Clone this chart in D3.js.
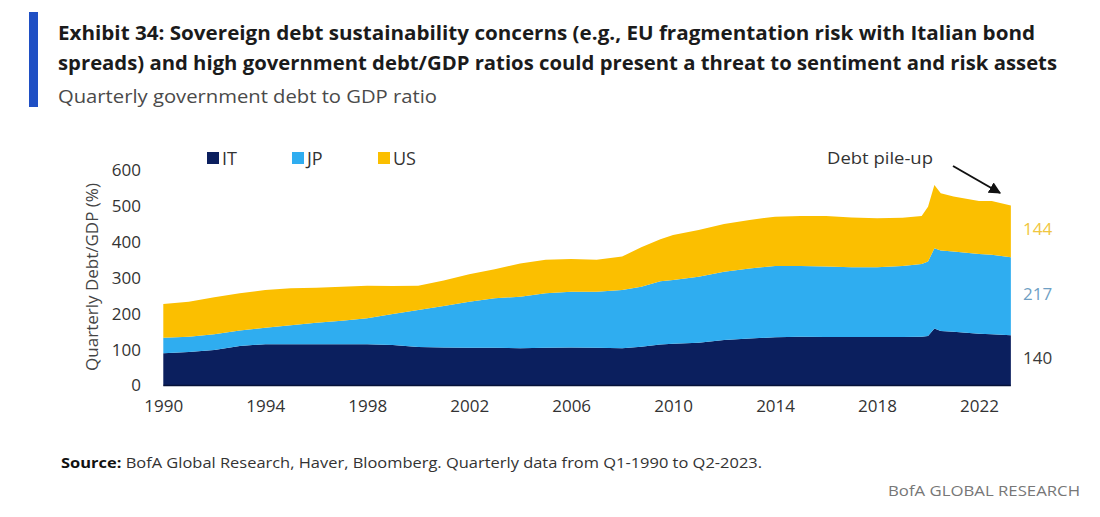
<!DOCTYPE html>
<html>
<head>
<meta charset="utf-8">
<script src="https://cdn.jsdelivr.net/npm/d3@7/dist/d3.min.js"></script>
<style>
  html, body { margin: 0; padding: 0; background: #fff; }
  svg { display: block; }
  text { font-family: "Open Sans", "Noto Sans", sans-serif; }
</style>
</head>
<body>
<svg id="chart" width="1100" height="517"></svg>
<script>
// ---------------- data ----------------
const dates = [1990, 1991, 1992, 1993, 1994, 1995, 1996, 1997, 1998, 1999,
  2000, 2001, 2002, 2003, 2004, 2005, 2006, 2007, 2008, 2008.75,
  2009.5, 2010, 2011, 2012, 2013, 2014, 2015, 2016, 2017, 2018,
  2019, 2019.75, 2020, 2020.25, 2020.5, 2021, 2022, 2022.5, 2023.25];
const itValues = [90, 93, 99, 110, 115, 115, 115, 115, 115, 113,
  107, 106, 105, 105, 104, 105, 106, 105, 104, 108,
  114, 116, 119, 127, 131, 134, 136, 135, 135, 135,
  135, 136, 138, 159, 152, 150, 144, 143, 140];
const jpValues = [43, 43, 44, 43, 46, 53, 60, 65, 72, 86,
  103, 115, 128, 138, 143, 152, 155, 156, 162, 167,
  176, 178, 184, 190, 195, 199, 197, 196, 194, 194,
  198, 202, 207, 223, 224, 223, 222, 221, 217];
const usValues = [94, 97, 103, 104, 105, 103, 97, 95, 91, 78,
  68, 71, 77, 81, 93, 93, 91, 89, 93, 110,
  117, 125, 130, 133, 135, 137, 139, 141, 139, 137,
  134, 134, 153, 176, 159, 153, 148, 150, 144];
const seriesKeys = ["IT", "JP", "US"];
const seriesColors = ["#0b1f5e", "#2fadf0", "#fbbf00"];
const yTicks = [0, 100, 200, 300, 400, 500, 600];
const xTicks = [1990, 1994, 1998, 2002, 2006, 2010, 2014, 2018, 2022];
const lastLabels = ["140", "217", "144"];
const lastLabelColors = ["#3a3a3a", "#6f9fc4", "#f0c640"];

const titleLines = [
  "Exhibit 34: Sovereign debt sustainability concerns (e.g., EU fragmentation risk with Italian bond",
  "spreads) and high government debt/GDP ratios could present a threat to sentiment and risk assets"
];
const subtitle = "Quarterly government debt to GDP ratio";
const yAxisTitle = "Quarterly Debt/GDP (%)";
const annotationText = "Debt pile-up";
const sourceBold = "Source:";
const sourceRest = " BofA Global Research, Haver, Bloomberg. Quarterly data from Q1-1990 to Q2-2023.";
const footer = "BofA GLOBAL RESEARCH";

// ---------------- build table ----------------
const table = dates.map((d, i) => ({ date: d, IT: itValues[i], JP: jpValues[i], US: usValues[i] }));

const svg = d3.select("#chart");

function fitWidth(sel, w) {
  sel.attr("textLength", w).attr("lengthAdjust", "spacingAndGlyphs");
}

// ---------------- header ----------------
svg.append("rect").attr("x", 29).attr("y", 12).attr("width", 9).attr("height", 95).attr("fill", "#1f4fc4");

const t1 = svg.append("text").attr("x", 58).attr("y", 40)
  .attr("font-size", 19.5).attr("font-weight", 700).attr("fill", "#1b1b1b").text(titleLines[0]);
fitWidth(t1, 977);
const t2 = svg.append("text").attr("x", 58).attr("y", 70)
  .attr("font-size", 19.5).attr("font-weight", 700).attr("fill", "#1b1b1b").text(titleLines[1]);
fitWidth(t2, 999);
const st = svg.append("text").attr("x", 58).attr("y", 103)
  .attr("font-size", 17.5).attr("fill", "#4a4a4a").text(subtitle);
fitWidth(st, 379);

// ---------------- scales ----------------
const x = d3.scaleLinear().domain([1990, 2022]).range([163.3, 979]);
const y = d3.scaleLinear().domain([0, 600]).range([385.5, 170]);

// ---------------- stacked areas ----------------
const stack = d3.stack().keys(seriesKeys);
const layers = stack(table);
const area = d3.area()
  .x(d => x(d.data.date))
  .y0(d => y(d[0]))
  .y1(d => y(d[1]))
  .curve(d3.curveLinear);

svg.append("g").selectAll("path").data(layers).join("path")
  .attr("d", area)
  .attr("fill", (d, i) => seriesColors[i]);

// bottom edge line
svg.append("line")
  .attr("x1", x(dates[0])).attr("x2", x(dates[dates.length - 1]))
  .attr("y1", y(0)).attr("y2", y(0))
  .attr("stroke", "#061238").attr("stroke-width", 1.5);

// ---------------- axes ----------------
const yAxis = d3.axisLeft(y).tickValues(yTicks).tickSize(0).tickPadding(0);
const gy = svg.append("g").attr("transform", "translate(141,0)").call(yAxis);
gy.select(".domain").remove();
gy.selectAll("text").attr("font-size", 17).attr("fill", "#333")
  .attr("font-family", "'Open Sans', sans-serif");

const xAxis = d3.axisBottom(x).tickValues(xTicks).tickFormat(d3.format("d")).tickSize(0).tickPadding(0);
const gx = svg.append("g").attr("transform", "translate(0,400)").call(xAxis);
gx.select(".domain").remove();
gx.selectAll("text").attr("font-size", 17).attr("fill", "#333")
  .attr("font-family", "'Open Sans', sans-serif");

svg.append("text")
  .attr("transform", "translate(98,277) rotate(-90)")
  .attr("text-anchor", "middle")
  .attr("font-size", 17).attr("fill", "#444")
  .text(yAxisTitle);

// ---------------- legend ----------------
const legendX = [207, 292, 378];
const lg = svg.append("g");
seriesKeys.forEach((k, i) => {
  lg.append("rect").attr("x", legendX[i]).attr("y", 152).attr("width", 12).attr("height", 12)
    .attr("fill", seriesColors[i]);
  lg.append("text").attr("x", legendX[i] + 15).attr("y", 165)
    .attr("font-size", 18).attr("fill", "#333").text(k);
});

// ---------------- end labels ----------------
const lastRow = layers.map(l => l[l.length - 1]);
lastRow.forEach((d, i) => {
  svg.append("text")
    .attr("x", 1023)
    .attr("y", y((d[0] + d[1]) / 2) - 2)
    .attr("dy", "0.35em")
    .attr("font-size", 17).attr("fill", lastLabelColors[i])
    .text(lastLabels[i]);
});

// ---------------- annotation ----------------
svg.append("defs").append("marker")
  .attr("id", "arrow").attr("viewBox", "0 0 10 10")
  .attr("refX", 9).attr("refY", 5)
  .attr("markerWidth", 6).attr("markerHeight", 6)
  .attr("orient", "auto")
  .append("path").attr("d", "M0,0 L10,5 L0,10 Z").attr("fill", "#111");

const ann = svg.append("text").attr("x", 827).attr("y", 164)
  .attr("font-size", 17).attr("fill", "#333").text(annotationText);
fitWidth(ann, 106);
svg.append("line")
  .attr("x1", 953).attr("y1", 166).attr("x2", 1000).attr("y2", 193)
  .attr("stroke", "#111").attr("stroke-width", 2)
  .attr("marker-end", "url(#arrow)");

// ---------------- source & footer ----------------
const src = svg.append("text").attr("x", 61).attr("y", 468).attr("font-size", 14).attr("fill", "#333");
src.append("tspan").attr("font-weight", 700).attr("fill", "#111").text(sourceBold);
src.append("tspan").text(sourceRest);
fitWidth(src, 701);

const ft = svg.append("text").attr("x", 1080).attr("y", 496).attr("text-anchor", "end")
  .attr("font-size", 15).attr("fill", "#777").text(footer);
fitWidth(ft, 192);
</script>
</body>
</html>
